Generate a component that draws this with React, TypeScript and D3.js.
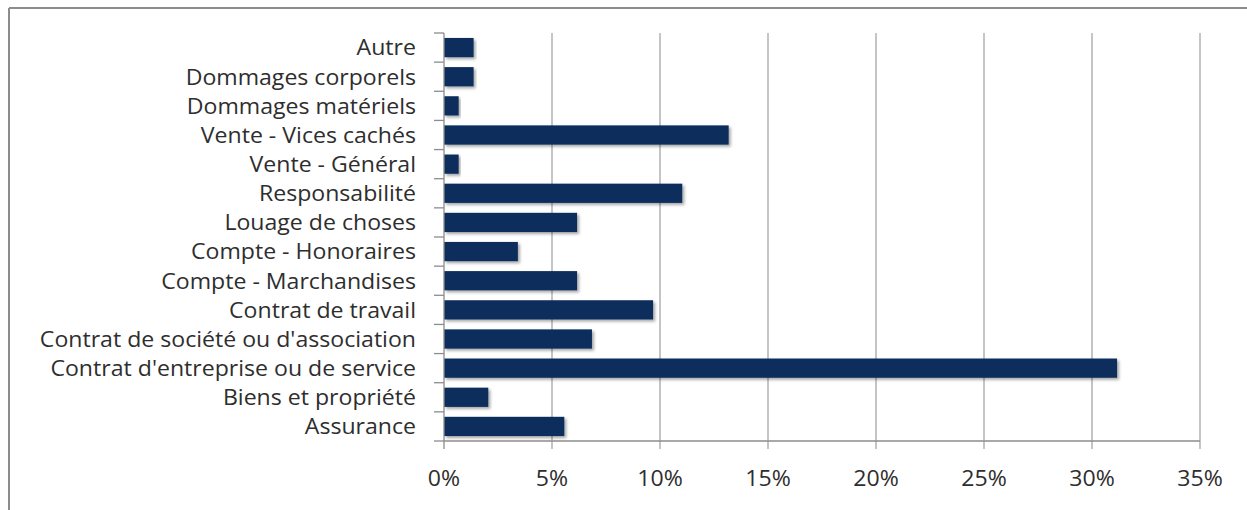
import React from "react";
import * as d3 from "d3";

const categories = [
  "Autre",
  "Dommages corporels",
  "Dommages matériels",
  "Vente - Vices cachés",
  "Vente - Général",
  "Responsabilité",
  "Louage de choses",
  "Compte - Honoraires",
  "Compte - Marchandises",
  "Contrat de travail",
  "Contrat de société ou d'association",
  "Contrat d'entreprise ou de service",
  "Biens et propriété",
  "Assurance",
];
const values = [1.37, 1.37, 0.68, 13.18, 0.68, 11.03, 6.16, 3.42, 6.16, 9.68, 6.85, 31.16, 2.05, 5.57];
const xTicks = [0, 5, 10, 15, 20, 25, 30, 35];

const W = 1247;
const H = 510;
const left = 444;
const right = 1200;
const top = 33;
const bottom = 441;
const FONT = "'Open Sans', 'Liberation Sans', sans-serif";
const TEXT = "#2e2e2e";
const FS = 22;
const SX = 1.05;

export default function App() {
  const x = d3.scaleLinear().domain([0, 35]).range([left, right]);
  const y = d3.scaleBand().domain(categories).range([top, bottom]).paddingInner(0.34).paddingOuter(0.17);
  const step = y.step();
  return (
    <svg width={W} height={H} style={{ position: "absolute", left: 0, top: 0 }}>
      <defs>
        <filter id="sh" x="-5%" y="-20%" width="115%" height="160%">
          <feDropShadow dx="2" dy="2" stdDeviation="1.5" floodColor="#000" floodOpacity="0.35" />
        </filter>
      </defs>
      <rect x={0} y={0} width={W} height={H} fill="#fff" />
      {/* outer frame */}
      <line x1={9} x2={W} y1={8} y2={8} stroke="#8c8c8c" strokeWidth={2} />
      <line x1={9} x2={9} y1={8} y2={H} stroke="#8c8c8c" strokeWidth={2} />
      {/* gridlines */}
      {xTicks.slice(1).map((t) => (
        <line key={"g" + t} x1={x(t)} x2={x(t)} y1={top} y2={bottom + 8} stroke="#a6a6a6" strokeWidth={1.3} />
      ))}
      {/* bars */}
      {categories.map((c, i) => (
        <rect
          key={c}
          x={x(0)}
          y={y(c)!}
          width={x(values[i]) - x(0)}
          height={y.bandwidth()}
          fill="#0b2e5b"
          filter="url(#sh)"
        />
      ))}
      {/* axes */}
      <line x1={left} x2={left} y1={top} y2={bottom + 8} stroke="#8c8c8c" strokeWidth={1.3} />
      <line x1={left} x2={right} y1={bottom} y2={bottom} stroke="#8c8c8c" strokeWidth={1.3} />
      {d3.range(categories.length + 1).map((i) => (
        <line key={"yt" + i} x1={left - 10} x2={left} y1={top + i * step} y2={top + i * step} stroke="#8c8c8c" strokeWidth={1.3} />
      ))}
      {/* category labels */}
      {categories.map((c) => (
        <text
          key={"l" + c}
          transform={`translate(416,${y(c)! + y.bandwidth() / 2}) scale(${SX},1)`}
          dy="0.36em"
          textAnchor="end"
          fontFamily={FONT}
          fontSize={FS}
          fill={TEXT}
        >
          {c}
        </text>
      ))}
      {/* x tick labels */}
      {xTicks.map((t) => (
        <text
          key={"xl" + t}
          transform={`translate(${x(t)},486) scale(${SX},1)`}
          textAnchor="middle"
          fontFamily={FONT}
          fontSize={FS}
          fill={TEXT}
        >
          {t + "%"}
        </text>
      ))}
    </svg>
  );
}
